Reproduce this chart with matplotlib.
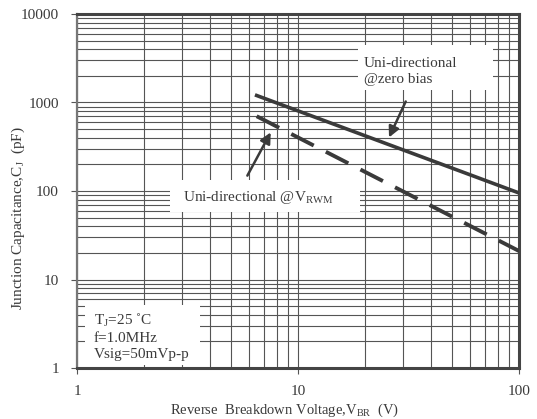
import numpy as np
import matplotlib.pyplot as plt
from matplotlib.patches import Rectangle

plt.rcParams['font.family'] = 'Liberation Serif'
plt.rcParams['mathtext.fontset'] = 'custom'
plt.rcParams['mathtext.rm'] = 'Liberation Serif'
plt.rcParams['mathtext.it'] = 'Liberation Serif:italic'

# curves (V, pF)
zeroBiasV = [6.5, 100]
zeroBiasC = [1200, 95]
rwmV = [6.5, 100]
rwmC = [700, 21]

xTicks = [1, 10, 100]
yTicks = [1, 10, 100, 1000, 10000]

ink = '#3a3a3a'
grid = '#555555'

fig = plt.figure(figsize=(5.37, 4.19), dpi=100)
ax = fig.add_axes([77/537, 1 - 368/419, 442/537, 354/419])
ax.set_xscale('log')
ax.set_yscale('log')
ax.set_xlim(1, 100)
ax.set_ylim(1, 10000)

ax.grid(True, which='both', color=grid, linewidth=0.8, zorder=0)
ax.set_axisbelow(True)

# white boxes that mask the grid behind the notes
for x0, y0, w, h in [(0.636, 0.785, 0.305, 0.127),
                     (0.210, 0.441, 0.430, 0.090),
                     (0.018, 0.008, 0.260, 0.170)]:
    ax.add_patch(Rectangle((x0, y0), w, h, transform=ax.transAxes,
                           facecolor='white', edgecolor='none', zorder=1))

ax.plot(zeroBiasV, zeroBiasC, color=ink, linewidth=2.6, zorder=3)
ax.plot(rwmV, rwmC, color=ink, linewidth=2.8, dashes=(6.5, 3.5), zorder=3)

arrow = dict(arrowstyle='-|>', color=ink, linewidth=1.8, mutation_scale=16)
ax.annotate('', xy=(25.5, 377), xytext=(31.1, 1096), arrowprops=arrow, zorder=4)
ax.annotate('', xy=(7.63, 490), xytext=(5.82, 140), arrowprops=arrow, zorder=4)

ax.text(0.649, 0.838, 'Uni-directional\n@zero bias', transform=ax.transAxes,
        fontsize=11, color=ink, va='center', ha='left', linespacing=1.25, zorder=5)
ax.text(0.240, 0.482, 'Uni-directional @V$_{\\rm RWM}$', transform=ax.transAxes,
        fontsize=11, color=ink, va='center', ha='left', zorder=5)
ax.text(0.038, 0.088, 'T$_{\\rm J}$=25 \u02daC\nf=1.0MHz\nVsig=50mVp-p', transform=ax.transAxes,
        fontsize=11, color=ink, va='center', ha='left', linespacing=1.3, zorder=5)

ax.set_xticks(xTicks)
ax.set_xticklabels([str(t) for t in xTicks])
ax.set_yticks(yTicks)
ax.set_yticklabels([str(t) for t in yTicks])
ax.tick_params(which='minor', length=0)
ax.tick_params(which='major', length=4, width=0.8, color=grid, labelsize=11,
               labelcolor=ink)
ax.tick_params(axis='x', pad=8)
ax.tick_params(axis='y', pad=9)

for side in ['top', 'right', 'bottom']:
    ax.spines[side].set_linewidth(2.2)
    ax.spines[side].set_color('#444444')
ax.spines['left'].set_linewidth(1.6)
ax.spines['left'].set_color('#777777')

ax.set_xlabel('Reverse  Breakdown Voltage,V$_{\\rm BR}$  (V)', fontsize=10.5, color=ink)
ax.set_ylabel('Junction Capacitance,C$_{\\rm J}$  (pF)', fontsize=11, color=ink)
ax.xaxis.set_label_coords(0.47, -0.095)
ax.yaxis.set_label_coords(-0.113, 0.424)

fig.savefig('out.png', dpi=100)
